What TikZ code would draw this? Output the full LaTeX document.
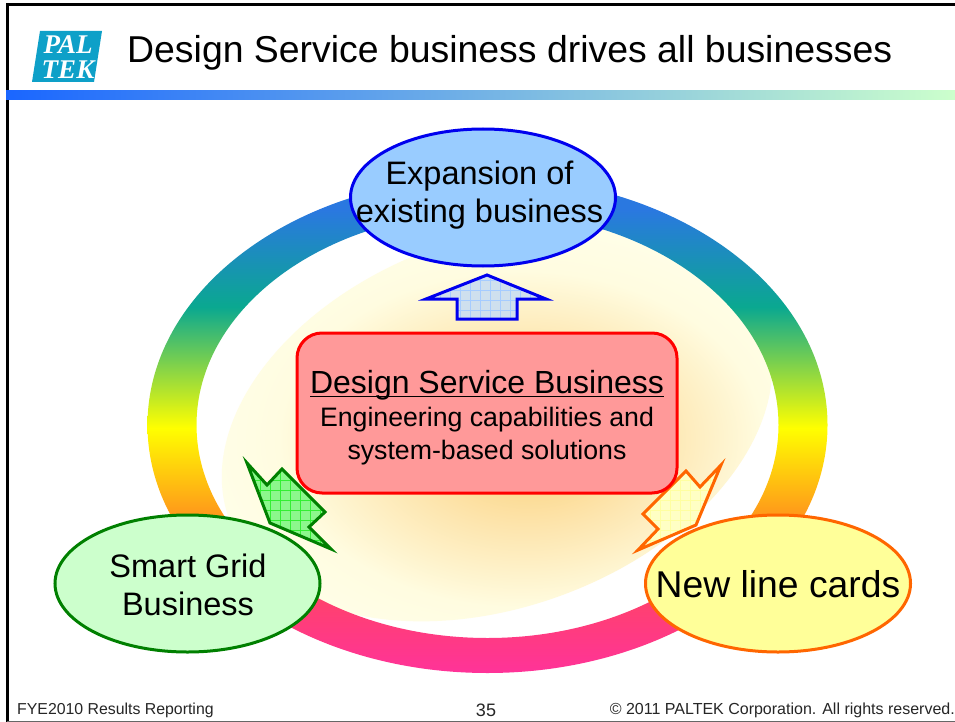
\documentclass[tikz,border=0pt]{standalone}
\usepackage{fontspec}
\setmainfont{Liberation Sans}
\newfontfamily\logofont{Liberation Serif}
\usetikzlibrary{shapes.geometric}
\definecolor{ringpink}{HTML}{FF3399}
\definecolor{ringrose}{HTML}{FF4070}
\definecolor{ringorange}{HTML}{FF9A1A}
\definecolor{ringteal}{HTML}{0AA890}
\definecolor{ringblue}{HTML}{2A78E0}
\definecolor{glowcore}{HTML}{FBCC70}
\definecolor{glowmid}{HTML}{FDE6B0}
\definecolor{glowfade}{HTML}{FFFCE0}
\definecolor{glowedge}{HTML}{FFFEE8}
\definecolor{barblue}{HTML}{1A66FF}
\definecolor{bargreen}{HTML}{CCFFCC}
\definecolor{logoblue}{HTML}{0EA0C8}
\definecolor{boxred}{HTML}{FF9999}
\definecolor{ovalblue}{HTML}{99CCFF}
\definecolor{ovalgreen}{HTML}{CCFFCC}
\definecolor{ovalyellow}{HTML}{FFFF99}
\definecolor{ovalorange}{HTML}{FF6600}
\definecolor{linegreen}{HTML}{008000}
\definecolor{lineblue}{HTML}{0000EE}
\definecolor{arrowbluefill}{HTML}{CFE0EE}
\definecolor{arrowblueline}{HTML}{A6CCFF}
\definecolor{arrowgreenfill}{HTML}{8CF78C}
\definecolor{arrowgreenline}{HTML}{33EE33}
\definecolor{arroworangefill}{HTML}{FFFFC4}
\definecolor{arroworangeline}{HTML}{FFFFA0}
\pgfdeclareverticalshading{ringshade}{100bp}{color(0bp)=(ringpink);color(25bp)=(ringpink);color(32.06bp)=(ringrose);color(41.1bp)=(ringorange);color(49.7bp)=(yellow);color(61.9bp)=(ringteal);color(71.7bp)=(ringblue);color(100bp)=(ringblue)}
\pgfdeclareradialshading{glowshade}{\pgfpoint{3bp}{0bp}}{color(0bp)=(glowcore);color(11bp)=(glowmid);color(20bp)=(glowfade);color(26bp)=(glowedge);color(60bp)=(glowedge)}
\newcommand{\headline}[1]{\setbox0\hbox{#1}\rlap{\raisebox{-4pt}{\rule{\wd0}{1.6pt}}}\box0}
\tikzset{
  oval node/.style={ellipse,draw,line width=3pt,minimum width=265pt,minimum height=137pt,inner sep=0pt},
  oval text/.style={inner sep=0pt,align=center,font=\fontsize{32.5}{38}\selectfont},
  big arrow/.style={draw,line width=3pt,miter limit=12,path picture={\draw[line width=.6pt,#1] (path picture bounding box.south west) grid[step=10pt] (path picture bounding box.north east);}}
}
\begin{document}
\begin{tikzpicture}[x=1pt,y=-1pt]
  \useasboundingbox (0,0) rectangle (955,722);
  % Frame
  \fill[white] (0,0) rectangle (955,722);
  \draw[line width=3pt] (955,5) -- (7,5) -- (7,722);
  \draw[line width=1pt,black!60] (7,721.5) -- (955,721.5);
  \shade[left color=barblue,right color=bargreen] (6,91) rectangle (955,100);
  % Logo
  \fill[logoblue] (40,31) -- (102,31) -- (94,82) -- (32,82) -- cycle;
  \node[white,inner sep=0pt,align=center,font=\logofont\itshape\bfseries\fontsize{27}{25}\selectfont] (logo) at (68,57) {PAL\\TEK};
  % Title
  \node[anchor=west,inner sep=0pt,font=\fontsize{37.4}{46}\selectfont] (title) at (127,53) {Design Service business drives all businesses};
  % Background
  \path[shading=glowshade,rotate around={20:(497,422)}] (497,422) ellipse [x radius=285,y radius=185];
  \path[shading=ringshade,even odd rule] (487.5,425) ellipse [x radius=340,y radius=248] (487.5,425) ellipse [x radius=291,y radius=213];
  % Block arrows
  \path[big arrow=arrowblueline,draw=lineblue,fill=arrowbluefill] (487,275) -- (546,299) -- (517,299) -- (517,319) -- (457,319) -- (457,299) -- (426,299) -- cycle;
  \path[big arrow=arrowgreenline,draw=linegreen,fill=arrowgreenfill] (247,463) -- (267,485) -- (282,469) -- (325,512) -- (309,527) -- (331,549) -- (270,523) -- cycle;
  \path[big arrow=arroworangeline,draw=ovalorange,fill=arroworangefill] (721,465) -- (700,487) -- (686,471) -- (643,514) -- (658,529) -- (638,550) -- (696,525) -- cycle;
  % Nodes
  \node[rectangle,rounded corners=25pt,draw=red,fill=boxred,line width=3pt,minimum width=380pt,minimum height=160pt,inner sep=0pt] (design) at (487,413) {};
  \node[inner sep=0pt,align=center,font=\fontsize{26.7}{33}\selectfont] (design text) at (487,417.5) {{\fontsize{32}{33}\selectfont\headline{Design Service Business}}\\Engineering capabilities and\\system-based solutions};
  \node[oval node,draw=lineblue,fill=ovalblue] (expansion) at (483,197.5) {};
  \node[oval text] (expansion text) at (479.5,195) {Expansion of\\existing business};
  \node[oval node,draw=linegreen,fill=ovalgreen] (grid) at (187.5,583.5) {};
  \node[oval text] (grid text) at (188,585) {Smart Grid\\Business};
  \node[oval node,draw=ovalorange,fill=ovalyellow] (cards) at (778,583.5) {};
  \node[oval text,font=\fontsize{37.3}{42}\selectfont] (cards text) at (778,584) {New line cards};
  % Footer
  \node[anchor=west,inner sep=0pt,text=black!85,font=\fontsize{15.85}{19}\selectfont] (report) at (17,710) {FYE2010 Results Reporting};
  \node[inner sep=0pt,text=black!85,font=\fontsize{18}{21}\selectfont] (page) at (486,710) {35};
  \node[anchor=east,inner sep=0pt,text=black!85,font=\fontsize{16}{19}\selectfont] (rights) at (955,710) {© 2011 PALTEK Corporation. All rights reserved.};
\end{tikzpicture}
\end{document}
